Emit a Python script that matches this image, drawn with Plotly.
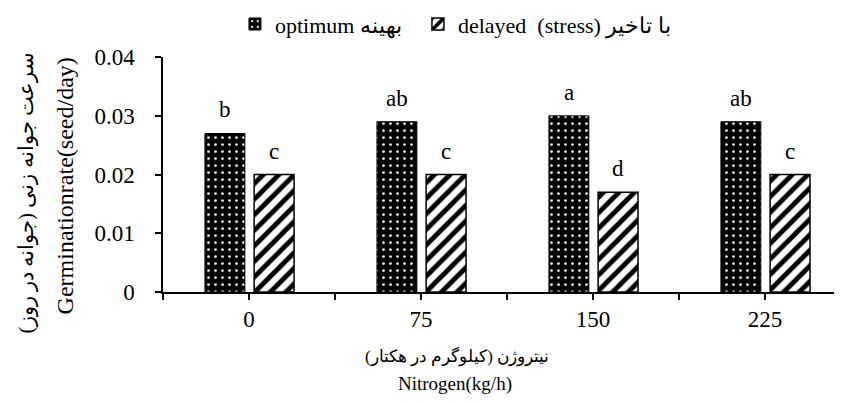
import plotly.graph_objects as go

categories = ["0", "75", "150", "225"]
optimum = [0.027, 0.029, 0.030, 0.029]
delayed = [0.020, 0.020, 0.017, 0.020]
optimum_letters = ["b", "ab", "a", "ab"]
delayed_letters = ["c", "c", "d", "c"]
y_ticks = [0, 0.01, 0.02, 0.03, 0.04]
y_tick_labels = ["0", "0.01", "0.02", "0.03", "0.04"]
series_names = ["optimum بهینه", "delayed  (stress) با تاخیر"]

FONT = "Liberation Serif, serif"
xs = list(range(len(categories)))
W = 0.232
OFF_OPT = -0.256
OFF_DEL = 0.03
NBSP = "\u00a0"

fig = go.Figure()
fig.add_trace(go.Bar(
    x=xs, y=optimum, name=series_names[0] + NBSP * 2,
    width=W, offset=OFF_OPT,
    marker=dict(color="black", line=dict(color="black", width=1),
                pattern=dict(shape=".", bgcolor="black", fgcolor="white",
                             fgopacity=1, size=7, solidity=0.12)),
))
fig.add_trace(go.Bar(
    x=xs, y=delayed, name=series_names[1],
    width=W, offset=OFF_DEL,
    marker=dict(color="white", line=dict(color="black", width=1.5),
                pattern=dict(shape="/", bgcolor="white", fgcolor="black",
                             fgopacity=1, size=11, solidity=0.45)),
))

annotations = []
for i in xs:
    annotations.append(dict(x=i + OFF_OPT + W / 2, y=optimum[i], text=optimum_letters[i],
                            showarrow=False, yanchor="bottom", yshift=9,
                            font=dict(family=FONT, size=23, color="black")))
    annotations.append(dict(x=i + OFF_DEL + W / 2, y=delayed[i], text=delayed_letters[i],
                            showarrow=False, yanchor="bottom", yshift=9,
                            font=dict(family=FONT, size=23, color="black")))

annotations += [
    dict(xref="paper", yref="paper", x=-0.2018, y=0.424, textangle=-90,
         xanchor="center", yanchor="middle",
         text="سرعت جوانه زنی (جوانه در روز)", showarrow=False,
         font=dict(family=FONT, size=21, color="black")),
    dict(xref="paper", yref="paper", x=-0.1443, y=0.4496, textangle=-90,
         xanchor="center", yanchor="middle",
         text="Germinationrate(seed/day)", showarrow=False,
         font=dict(family=FONT, size=24, color="black")),
    dict(xref="paper", yref="paper", x=0.433, y=-0.273,
         xanchor="center", yanchor="middle",
         text="نیتروژن (کیلوگرم در هکتار)", showarrow=False,
         font=dict(family=FONT, size=17, color="black")),
    dict(xref="paper", yref="paper", x=0.430, y=-0.39,
         xanchor="center", yanchor="middle",
         text="Nitrogen(kg/h)", showarrow=False,
         font=dict(family=FONT, size=19, color="black")),
]

tick_x = [-0.5, 0, 0.5, 1, 1.5, 2, 2.5, 3]
tick_x_text = ["", categories[0], "", categories[1], "", categories[2], "", categories[3]]

fig.update_layout(
    width=834, height=395,
    margin=dict(l=155, r=0, t=46, b=111),
    paper_bgcolor="white", plot_bgcolor="white",
    barmode="overlay",
    font=dict(family=FONT, size=23, color="black"),
    showlegend=True,
    legend=dict(orientation="h", xref="paper", yref="container",
                x=0.106, xanchor="left", y=0.959, yanchor="middle",
                font=dict(family=FONT, size=22, color="black"),
                itemwidth=30, tracegroupgap=0),
    annotations=annotations,
    xaxis=dict(range=[-0.5, 3.448], tickvals=tick_x, ticktext=tick_x_text,
               showline=True, linecolor="black", linewidth=1.5,
               ticks="outside", ticklen=6, tickcolor="black", tickwidth=1.5,
               showgrid=False, zeroline=False,
               tickfont=dict(family=FONT, size=23, color="black")),
    yaxis=dict(range=[0, 0.04], tickvals=y_ticks, ticktext=y_tick_labels,
               showline=True, linecolor="black", linewidth=1.5,
               ticks="outside", ticklen=6, tickcolor="black", tickwidth=1.5,
               ticklabelstandoff=16,
               showgrid=False, zeroline=False,
               tickfont=dict(family=FONT, size=23, color="black")),
)

fig.write_html("out.html")
